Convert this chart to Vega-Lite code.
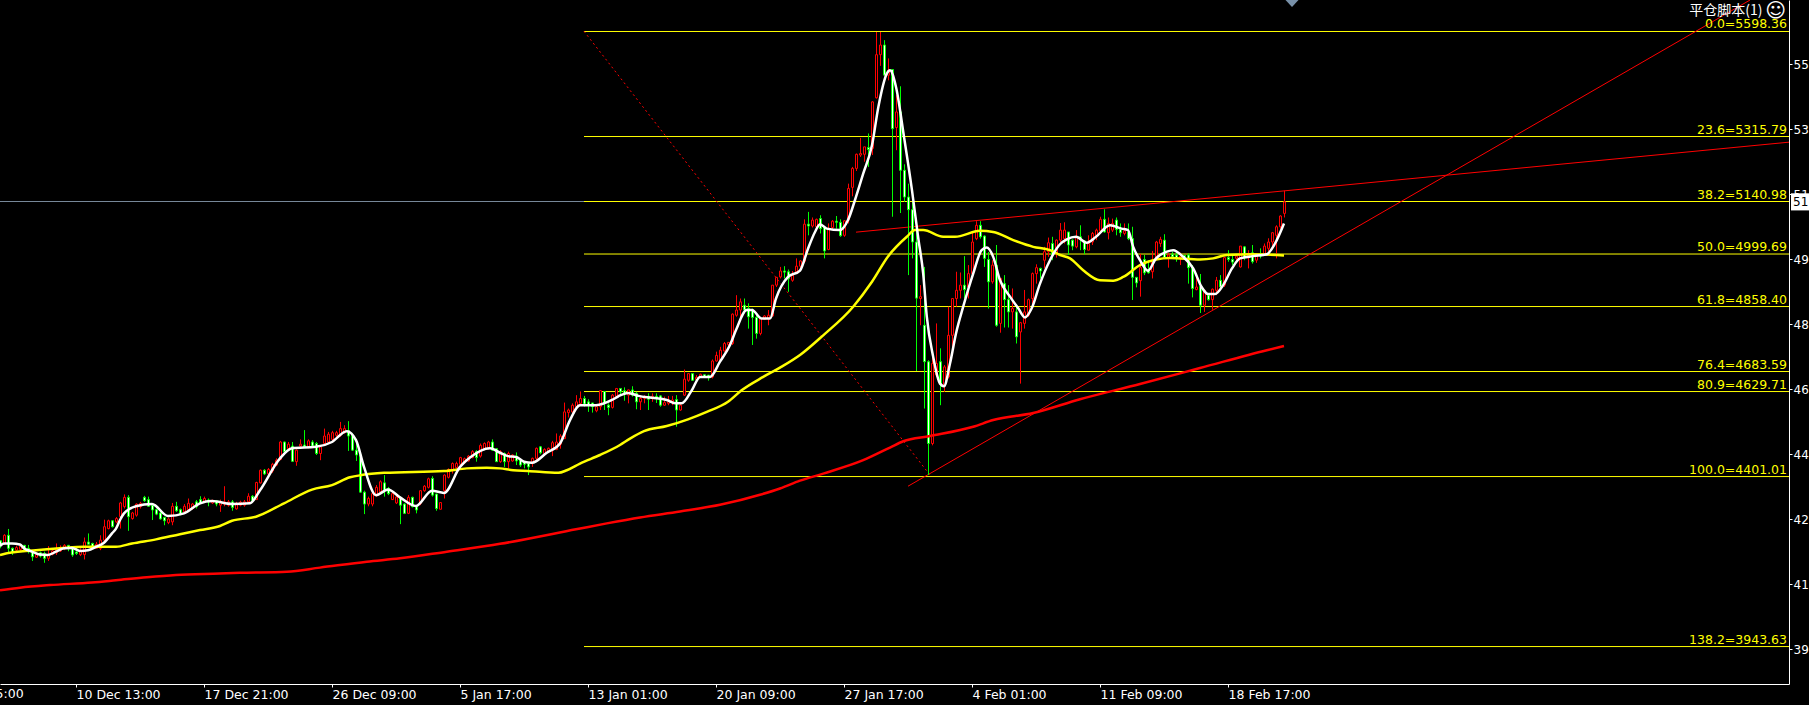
{"$schema":"https://vega.github.io/schema/vega-lite/v6.json","width":1789,"height":684,"autosize":{"type":"none"},"padding":{"left":0,"top":0,"right":20,"bottom":21},"background":"#000000","config":{"view":{"stroke":null},"axis":{"grid":false,"title":null}},
"datasets":{
"candles":[
{"i":0,"o":4228,"h":4230,"l":4208,"c":4217},{"i":1,"o":4221,"h":4246,"l":4217,"c":4243},{"i":2,"o":4243,"h":4260,"l":4194,"c":4208},{"i":3,"o":4208,"h":4210,"l":4190,"c":4197},{"i":4,"o":4203,"h":4215,"l":4200,"c":4210},{"i":5,"o":4205,"h":4216,"l":4201,"c":4214},{"i":6,"o":4216,"h":4217,"l":4199,"c":4203},{"i":7,"o":4208,"h":4217,"l":4194,"c":4199},{"i":8,"o":4197,"h":4201,"l":4174,"c":4185},{"i":9,"o":4184,"h":4194,"l":4182,"c":4191},
{"i":10,"o":4196,"h":4199,"l":4183,"c":4187},{"i":11,"o":4194,"h":4199,"l":4169,"c":4181},{"i":12,"o":4181,"h":4214,"l":4174,"c":4190},{"i":13,"o":4192,"h":4205,"l":4189,"c":4201},{"i":14,"o":4196,"h":4221,"l":4190,"c":4205},{"i":15,"o":4201,"h":4216,"l":4198,"c":4208},{"i":16,"o":4207,"h":4219,"l":4203,"c":4216},{"i":17,"o":4216,"h":4217,"l":4200,"c":4207},{"i":18,"o":4208,"h":4210,"l":4185,"c":4190},{"i":19,"o":4198,"h":4212,"l":4190,"c":4194},
{"i":20,"o":4191,"h":4208,"l":4187,"c":4201},{"i":21,"o":4191,"h":4237,"l":4178,"c":4225},{"i":22,"o":4225,"h":4248,"l":4219,"c":4219},{"i":23,"o":4221,"h":4223,"l":4208,"c":4210},{"i":24,"o":4208,"h":4225,"l":4207,"c":4219},{"i":25,"o":4208,"h":4243,"l":4203,"c":4230},{"i":26,"o":4230,"h":4285,"l":4225,"c":4266},{"i":27,"o":4261,"h":4285,"l":4259,"c":4282},{"i":28,"o":4282,"h":4284,"l":4264,"c":4266},{"i":29,"o":4279,"h":4292,"l":4275,"c":4288},
{"i":30,"o":4293,"h":4333,"l":4261,"c":4330},{"i":31,"o":4320,"h":4353,"l":4315,"c":4345},{"i":32,"o":4345,"h":4351,"l":4255,"c":4293},{"i":33,"o":4288,"h":4306,"l":4285,"c":4303},{"i":34,"o":4297,"h":4329,"l":4293,"c":4327},{"i":35,"o":4320,"h":4333,"l":4315,"c":4329},{"i":36,"o":4345,"h":4349,"l":4333,"c":4336},{"i":37,"o":4339,"h":4347,"l":4320,"c":4321},{"i":38,"o":4324,"h":4327,"l":4284,"c":4311},{"i":39,"o":4312,"h":4315,"l":4297,"c":4300},
{"i":40,"o":4303,"h":4306,"l":4285,"c":4287},{"i":41,"o":4291,"h":4293,"l":4270,"c":4282},{"i":42,"o":4277,"h":4291,"l":4273,"c":4287},{"i":43,"o":4279,"h":4330,"l":4270,"c":4321},{"i":44,"o":4321,"h":4333,"l":4306,"c":4309},{"i":45,"o":4312,"h":4315,"l":4297,"c":4300},{"i":46,"o":4306,"h":4327,"l":4303,"c":4321},{"i":47,"o":4312,"h":4342,"l":4309,"c":4329},{"i":48,"o":4315,"h":4330,"l":4312,"c":4327},{"i":49,"o":4333,"h":4338,"l":4315,"c":4320},
{"i":50,"o":4339,"h":4348,"l":4327,"c":4330},{"i":51,"o":4333,"h":4347,"l":4330,"c":4342},{"i":52,"o":4338,"h":4342,"l":4321,"c":4333},{"i":53,"o":4330,"h":4339,"l":4327,"c":4336},{"i":54,"o":4336,"h":4338,"l":4321,"c":4327},{"i":55,"o":4324,"h":4339,"l":4306,"c":4333},{"i":56,"o":4327,"h":4375,"l":4321,"c":4333},{"i":57,"o":4324,"h":4338,"l":4320,"c":4333},{"i":58,"o":4333,"h":4338,"l":4309,"c":4318},{"i":59,"o":4314,"h":4333,"l":4312,"c":4327},
{"i":60,"o":4324,"h":4336,"l":4321,"c":4332},{"i":61,"o":4324,"h":4338,"l":4320,"c":4333},{"i":62,"o":4333,"h":4356,"l":4330,"c":4348},{"i":63,"o":4348,"h":4351,"l":4333,"c":4336},{"i":64,"o":4339,"h":4387,"l":4338,"c":4385},{"i":65,"o":4384,"h":4420,"l":4382,"c":4418},{"i":66,"o":4418,"h":4421,"l":4405,"c":4408},{"i":67,"o":4408,"h":4424,"l":4405,"c":4420},{"i":68,"o":4416,"h":4438,"l":4411,"c":4434},{"i":69,"o":4432,"h":4450,"l":4429,"c":4445},
{"i":70,"o":4447,"h":4497,"l":4445,"c":4494},{"i":71,"o":4494,"h":4495,"l":4465,"c":4468},{"i":72,"o":4476,"h":4494,"l":4474,"c":4488},{"i":73,"o":4483,"h":4494,"l":4440,"c":4442},{"i":74,"o":4441,"h":4474,"l":4430,"c":4472},{"i":75,"o":4483,"h":4501,"l":4479,"c":4488},{"i":76,"o":4486,"h":4526,"l":4479,"c":4481},{"i":77,"o":4481,"h":4501,"l":4477,"c":4497},{"i":78,"o":4494,"h":4499,"l":4481,"c":4483},{"i":79,"o":4490,"h":4494,"l":4459,"c":4463},
{"i":80,"o":4463,"h":4485,"l":4445,"c":4481},{"i":81,"o":4490,"h":4530,"l":4488,"c":4510},{"i":82,"o":4494,"h":4521,"l":4490,"c":4515},{"i":83,"o":4501,"h":4524,"l":4494,"c":4519},{"i":84,"o":4512,"h":4524,"l":4508,"c":4519},{"i":85,"o":4512,"h":4548,"l":4508,"c":4530},{"i":86,"o":4519,"h":4539,"l":4517,"c":4530},{"i":87,"o":4524,"h":4550,"l":4470,"c":4510},{"i":88,"o":4512,"h":4517,"l":4470,"c":4472},{"i":89,"o":4472,"h":4490,"l":4443,"c":4459},
{"i":90,"o":4459,"h":4463,"l":4357,"c":4359},{"i":91,"o":4359,"h":4363,"l":4300,"c":4327},{"i":92,"o":4327,"h":4347,"l":4321,"c":4342},{"i":93,"o":4327,"h":4360,"l":4321,"c":4355},{"i":94,"o":4351,"h":4378,"l":4347,"c":4372},{"i":95,"o":4360,"h":4391,"l":4355,"c":4387},{"i":96,"o":4384,"h":4405,"l":4347,"c":4364},{"i":97,"o":4369,"h":4373,"l":4351,"c":4355},{"i":98,"o":4339,"h":4360,"l":4338,"c":4355},{"i":99,"o":4330,"h":4351,"l":4327,"c":4346},
{"i":100,"o":4345,"h":4347,"l":4273,"c":4324},{"i":101,"o":4327,"h":4329,"l":4300,"c":4302},{"i":102,"o":4302,"h":4351,"l":4300,"c":4345},{"i":103,"o":4345,"h":4347,"l":4318,"c":4320},{"i":104,"o":4320,"h":4321,"l":4302,"c":4311},{"i":105,"o":4329,"h":4364,"l":4324,"c":4363},{"i":106,"o":4363,"h":4378,"l":4360,"c":4375},{"i":107,"o":4372,"h":4398,"l":4369,"c":4395},{"i":108,"o":4396,"h":4402,"l":4347,"c":4351},{"i":109,"o":4354,"h":4355,"l":4309,"c":4315},
{"i":110,"o":4313,"h":4331,"l":4313,"c":4331},{"i":111,"o":4363,"h":4407,"l":4342,"c":4405},{"i":112,"o":4399,"h":4423,"l":4396,"c":4420},{"i":113,"o":4418,"h":4439,"l":4409,"c":4436},{"i":114,"o":4425,"h":4441,"l":4423,"c":4436},{"i":115,"o":4434,"h":4454,"l":4432,"c":4452},{"i":116,"o":4438,"h":4452,"l":4436,"c":4449},{"i":117,"o":4443,"h":4459,"l":4441,"c":4456},{"i":118,"o":4452,"h":4472,"l":4450,"c":4468},{"i":119,"o":4468,"h":4472,"l":4441,"c":4452},
{"i":120,"o":4456,"h":4490,"l":4452,"c":4485},{"i":121,"o":4474,"h":4493,"l":4472,"c":4490},{"i":122,"o":4479,"h":4497,"l":4474,"c":4494},{"i":123,"o":4494,"h":4501,"l":4470,"c":4472},{"i":124,"o":4476,"h":4477,"l":4441,"c":4441},{"i":125,"o":4441,"h":4472,"l":4438,"c":4468},{"i":126,"o":4463,"h":4466,"l":4427,"c":4441},{"i":127,"o":4441,"h":4468,"l":4423,"c":4463},{"i":128,"o":4443,"h":4461,"l":4441,"c":4459},{"i":129,"o":4456,"h":4466,"l":4432,"c":4443},
{"i":130,"o":4445,"h":4447,"l":4427,"c":4432},{"i":131,"o":4441,"h":4443,"l":4423,"c":4434},{"i":132,"o":4436,"h":4438,"l":4405,"c":4427},{"i":133,"o":4438,"h":4452,"l":4427,"c":4450},{"i":134,"o":4450,"h":4479,"l":4441,"c":4477},{"i":135,"o":4481,"h":4483,"l":4461,"c":4465},{"i":136,"o":4463,"h":4477,"l":4460,"c":4474},{"i":137,"o":4468,"h":4479,"l":4465,"c":4477},{"i":138,"o":4472,"h":4497,"l":4456,"c":4492},{"i":139,"o":4474,"h":4517,"l":4472,"c":4494},
{"i":140,"o":4488,"h":4515,"l":4476,"c":4510},{"i":141,"o":4503,"h":4600,"l":4503,"c":4575},{"i":142,"o":4573,"h":4584,"l":4560,"c":4580},{"i":143,"o":4575,"h":4598,"l":4571,"c":4593},{"i":144,"o":4589,"h":4620,"l":4584,"c":4602},{"i":145,"o":4598,"h":4630,"l":4593,"c":4611},{"i":146,"o":4611,"h":4618,"l":4589,"c":4596},{"i":147,"o":4602,"h":4609,"l":4575,"c":4593},{"i":148,"o":4599,"h":4599,"l":4573,"c":4589},{"i":149,"o":4578,"h":4593,"l":4574,"c":4589},
{"i":150,"o":4589,"h":4633,"l":4580,"c":4632},{"i":151,"o":4630,"h":4630,"l":4580,"c":4598},{"i":152,"o":4593,"h":4598,"l":4566,"c":4587},{"i":153,"o":4587,"h":4623,"l":4584,"c":4620},{"i":154,"o":4617,"h":4638,"l":4615,"c":4638},{"i":155,"o":4638,"h":4638,"l":4620,"c":4629},{"i":156,"o":4632,"h":4641,"l":4605,"c":4625},{"i":157,"o":4620,"h":4635,"l":4598,"c":4634},{"i":158,"o":4634,"h":4644,"l":4616,"c":4620},{"i":159,"o":4625,"h":4629,"l":4582,"c":4602},
{"i":160,"o":4602,"h":4620,"l":4580,"c":4611},{"i":161,"o":4611,"h":4620,"l":4598,"c":4614},{"i":162,"o":4617,"h":4625,"l":4580,"c":4609},{"i":163,"o":4611,"h":4625,"l":4602,"c":4617},{"i":164,"o":4617,"h":4625,"l":4599,"c":4611},{"i":165,"o":4618,"h":4620,"l":4589,"c":4593},{"i":166,"o":4593,"h":4616,"l":4591,"c":4600},{"i":167,"o":4598,"h":4618,"l":4593,"c":4602},{"i":168,"o":4602,"h":4618,"l":4593,"c":4607},{"i":169,"o":4608,"h":4620,"l":4535,"c":4580},
{"i":170,"o":4580,"h":4599,"l":4578,"c":4593},{"i":171,"o":4620,"h":4689,"l":4618,"c":4663},{"i":172,"o":4660,"h":4678,"l":4656,"c":4678},{"i":173,"o":4678,"h":4678,"l":4659,"c":4660},{"i":174,"o":4662,"h":4674,"l":4659,"c":4668},{"i":175,"o":4669,"h":4678,"l":4667,"c":4676},{"i":176,"o":4675,"h":4675,"l":4667,"c":4669},{"i":177,"o":4674,"h":4674,"l":4659,"c":4668},{"i":178,"o":4669,"h":4716,"l":4665,"c":4712},{"i":179,"o":4712,"h":4737,"l":4710,"c":4727},
{"i":180,"o":4714,"h":4750,"l":4712,"c":4741},{"i":181,"o":4739,"h":4763,"l":4737,"c":4759},{"i":182,"o":4756,"h":4763,"l":4750,"c":4762},{"i":183,"o":4759,"h":4840,"l":4755,"c":4838},{"i":184,"o":4835,"h":4889,"l":4831,"c":4849},{"i":185,"o":4849,"h":4880,"l":4829,"c":4871},{"i":186,"o":4862,"h":4880,"l":4840,"c":4849},{"i":187,"o":4853,"h":4867,"l":4799,"c":4831},{"i":188,"o":4849,"h":4853,"l":4755,"c":4829},{"i":189,"o":4829,"h":4835,"l":4772,"c":4786},
{"i":190,"o":4786,"h":4829,"l":4781,"c":4826},{"i":191,"o":4824,"h":4835,"l":4822,"c":4833},{"i":192,"o":4826,"h":4849,"l":4808,"c":4835},{"i":193,"o":4833,"h":4916,"l":4831,"c":4916},{"i":194,"o":4916,"h":4938,"l":4911,"c":4937},{"i":195,"o":4938,"h":4965,"l":4934,"c":4954},{"i":196,"o":4954,"h":4967,"l":4934,"c":4951},{"i":197,"o":4952,"h":4958,"l":4898,"c":4934},{"i":198,"o":4929,"h":4954,"l":4925,"c":4943},{"i":199,"o":4952,"h":4988,"l":4947,"c":4967},
{"i":200,"o":4967,"h":4983,"l":4963,"c":4981},{"i":201,"o":4980,"h":5093,"l":4976,"c":5080},{"i":202,"o":5080,"h":5113,"l":5050,"c":5075},{"i":203,"o":5075,"h":5098,"l":5071,"c":5091},{"i":204,"o":5073,"h":5095,"l":5071,"c":5093},{"i":205,"o":5095,"h":5104,"l":5055,"c":5068},{"i":206,"o":5071,"h":5073,"l":4988,"c":5008},{"i":207,"o":5012,"h":5082,"l":5010,"c":5066},{"i":208,"o":5071,"h":5091,"l":5064,"c":5088},{"i":209,"o":5088,"h":5102,"l":5068,"c":5085},
{"i":210,"o":5085,"h":5093,"l":5046,"c":5049},{"i":211,"o":5050,"h":5091,"l":5046,"c":5089},{"i":212,"o":5091,"h":5189,"l":5082,"c":5176},{"i":213,"o":5179,"h":5234,"l":5155,"c":5230},{"i":214,"o":5230,"h":5270,"l":5223,"c":5268},{"i":215,"o":5266,"h":5312,"l":5261,"c":5270},{"i":216,"o":5268,"h":5288,"l":5248,"c":5288},{"i":217,"o":5286,"h":5324,"l":5234,"c":5281},{"i":218,"o":5284,"h":5411,"l":5266,"c":5409},{"i":219,"o":5420,"h":5597,"l":5418,"c":5536},
{"i":220,"o":5536,"h":5597,"l":5506,"c":5562},{"i":221,"o":5562,"h":5575,"l":5481,"c":5481},{"i":222,"o":5481,"h":5526,"l":5467,"c":5494},{"i":223,"o":5496,"h":5496,"l":5100,"c":5337},{"i":224,"o":5340,"h":5427,"l":5279,"c":5382},{"i":225,"o":5382,"h":5451,"l":5110,"c":5225},{"i":226,"o":5225,"h":5241,"l":5140,"c":5153},{"i":227,"o":5153,"h":5189,"l":4943,"c":5119},{"i":228,"o":5119,"h":5140,"l":4988,"c":5032},{"i":229,"o":5032,"h":5091,"l":4685,"c":4881},
{"i":230,"o":4880,"h":4916,"l":4808,"c":4885},{"i":231,"o":4808,"h":4965,"l":4584,"c":4710},{"i":232,"o":4710,"h":4714,"l":4405,"c":4490},{"i":233,"o":4490,"h":4728,"l":4485,"c":4705},{"i":234,"o":4674,"h":4813,"l":4669,"c":4705},{"i":235,"o":4710,"h":4746,"l":4593,"c":4651},{"i":236,"o":4647,"h":4701,"l":4629,"c":4696},{"i":237,"o":4669,"h":4858,"l":4665,"c":4781},{"i":238,"o":4781,"h":4880,"l":4741,"c":4880},{"i":239,"o":4880,"h":4952,"l":4858,"c":4902},
{"i":240,"o":4902,"h":4950,"l":4880,"c":4916},{"i":241,"o":4916,"h":4994,"l":4880,"c":4904},{"i":242,"o":4911,"h":4970,"l":4880,"c":4947},{"i":243,"o":4947,"h":5059,"l":4943,"c":5032},{"i":244,"o":5041,"h":5088,"l":5037,"c":5077},{"i":245,"o":5077,"h":5088,"l":5041,"c":5046},{"i":246,"o":5048,"h":5050,"l":4965,"c":4988},{"i":247,"o":4985,"h":5005,"l":4853,"c":4925},{"i":248,"o":4925,"h":4983,"l":4920,"c":4970},{"i":249,"o":4970,"h":5024,"l":4804,"c":4808},
{"i":250,"o":4813,"h":4934,"l":4788,"c":4934},{"i":251,"o":4920,"h":4943,"l":4802,"c":4877},{"i":252,"o":4877,"h":4916,"l":4802,"c":4844},{"i":253,"o":4844,"h":4907,"l":4799,"c":4853},{"i":254,"o":4844,"h":4864,"l":4759,"c":4777},{"i":255,"o":4790,"h":4817,"l":4651,"c":4815},{"i":256,"o":4813,"h":4903,"l":4799,"c":4844},{"i":257,"o":4835,"h":4880,"l":4831,"c":4877},{"i":258,"o":4880,"h":4950,"l":4862,"c":4947},{"i":259,"o":4947,"h":4972,"l":4920,"c":4963},
{"i":260,"o":4961,"h":4963,"l":4934,"c":4954},{"i":261,"o":4983,"h":5019,"l":4961,"c":5006},{"i":262,"o":5006,"h":5044,"l":4992,"c":5030},{"i":263,"o":5028,"h":5046,"l":4983,"c":4997},{"i":264,"o":5001,"h":5039,"l":4990,"c":5037},{"i":265,"o":5037,"h":5083,"l":5032,"c":5064},{"i":266,"o":5041,"h":5085,"l":5028,"c":5064},{"i":267,"o":5059,"h":5059,"l":4997,"c":5024},{"i":268,"o":5037,"h":5039,"l":5010,"c":5021},{"i":269,"o":5019,"h":5064,"l":5015,"c":5046},
{"i":270,"o":5046,"h":5077,"l":5010,"c":5041},{"i":271,"o":5035,"h":5037,"l":4999,"c":5012},{"i":272,"o":5010,"h":5050,"l":5010,"c":5028},{"i":273,"o":5032,"h":5059,"l":5024,"c":5055},{"i":274,"o":5050,"h":5068,"l":5037,"c":5064},{"i":275,"o":5062,"h":5100,"l":5059,"c":5093},{"i":276,"o":5093,"h":5120,"l":5057,"c":5059},{"i":277,"o":5057,"h":5098,"l":5039,"c":5082},{"i":278,"o":5064,"h":5095,"l":5059,"c":5082},{"i":279,"o":5091,"h":5098,"l":5050,"c":5066},
{"i":280,"o":5066,"h":5082,"l":5046,"c":5057},{"i":281,"o":5055,"h":5082,"l":5050,"c":5062},{"i":282,"o":5059,"h":5082,"l":5037,"c":5041},{"i":283,"o":5041,"h":5073,"l":4876,"c":4937},{"i":284,"o":4937,"h":4938,"l":4910,"c":4922},{"i":285,"o":4928,"h":5000,"l":4885,"c":4963},{"i":286,"o":4985,"h":4997,"l":4943,"c":4949},{"i":287,"o":4956,"h":4983,"l":4947,"c":4949},{"i":288,"o":4952,"h":5008,"l":4934,"c":4983},{"i":289,"o":4990,"h":5035,"l":4983,"c":5032},
{"i":290,"o":5028,"h":5046,"l":5019,"c":5039},{"i":291,"o":5037,"h":5053,"l":4988,"c":4990},{"i":292,"o":4988,"h":5003,"l":4963,"c":4997},{"i":293,"o":4999,"h":5006,"l":4988,"c":4992},{"i":294,"o":4997,"h":5010,"l":4979,"c":4988},{"i":295,"o":4990,"h":5003,"l":4970,"c":4994},{"i":296,"o":4996,"h":4997,"l":4988,"c":4990},{"i":297,"o":4997,"h":5001,"l":4920,"c":4963},{"i":298,"o":4963,"h":4970,"l":4883,"c":4907},{"i":299,"o":4904,"h":4938,"l":4902,"c":4911},
{"i":300,"o":4913,"h":4946,"l":4841,"c":4862},{"i":301,"o":4862,"h":4902,"l":4844,"c":4902},{"i":302,"o":4889,"h":4894,"l":4874,"c":4877},{"i":303,"o":4877,"h":4907,"l":4850,"c":4905},{"i":304,"o":4902,"h":4938,"l":4889,"c":4929},{"i":305,"o":4929,"h":4943,"l":4907,"c":4911},{"i":306,"o":4916,"h":4992,"l":4911,"c":4990},{"i":307,"o":4990,"h":5010,"l":4979,"c":4985},{"i":308,"o":4985,"h":4999,"l":4970,"c":4978},{"i":309,"o":4988,"h":4997,"l":4983,"c":4994},
{"i":310,"o":4965,"h":5021,"l":4963,"c":5021},{"i":311,"o":5019,"h":5021,"l":4983,"c":4990},{"i":312,"o":4990,"h":5010,"l":4961,"c":4997},{"i":313,"o":5003,"h":5024,"l":4974,"c":4979},{"i":314,"o":4983,"h":4997,"l":4976,"c":4994},{"i":315,"o":5000,"h":5015,"l":4988,"c":4994},{"i":316,"o":4999,"h":5028,"l":4997,"c":5021},{"i":317,"o":5015,"h":5042,"l":5006,"c":5032},{"i":318,"o":5032,"h":5059,"l":5019,"c":5057},{"i":319,"o":5050,"h":5077,"l":4988,"c":5073},
{"i":320,"o":5073,"h":5104,"l":5068,"c":5102},{"i":321,"o":5109,"h":5170,"l":5098,"c":5140}],
"maWhite":[{"i":0,"p":4214},{"i":1,"p":4221},{"i":3,"p":4221},{"i":5,"p":4218},{"i":6,"p":4208},{"i":8,"p":4199},{"i":10,"p":4191},{"i":12,"p":4190},{"i":14,"p":4199},{"i":16,"p":4208},{"i":18,"p":4209},{"i":20,"p":4201},{"i":22,"p":4203},{"i":24,"p":4212},{"i":26,"p":4223},{"i":28,"p":4248},{"i":29,"p":4261},{"i":30,"p":4284},{"i":31,"p":4302},{"i":34,"p":4321},{"i":38,"p":4327},{"i":42,"p":4295},{"i":46,"p":4302},{"i":50,"p":4329},{"i":53,"p":4335},{"i":58,"p":4327},{"i":62.5,"p":4329},{"i":65,"p":4364},{"i":70,"p":4450},{"i":73,"p":4477},{"i":79,"p":4481},{"i":83,"p":4494},{"i":86.7,"p":4523},{"i":89,"p":4499},{"i":91,"p":4427},{"i":94,"p":4351},{"i":97,"p":4366},{"i":100,"p":4345},{"i":104,"p":4322},{"i":108,"p":4363},{"i":111,"p":4357},{"i":115,"p":4427},{"i":117.5,"p":4452},{"i":122.5,"p":4477},{"i":125,"p":4465},{"i":127,"p":4456},{"i":129,"p":4454},{"i":131,"p":4441},{"i":133,"p":4438},{"i":136.7,"p":4465},{"i":140,"p":4490},{"i":142.5,"p":4553},{"i":145,"p":4593},{"i":149,"p":4593},{"i":153,"p":4607},{"i":154.6,"p":4617},{"i":157,"p":4626},{"i":159.6,"p":4618},{"i":163,"p":4613},{"i":166.7,"p":4607},{"i":169,"p":4598},{"i":170.4,"p":4598},{"i":173,"p":4634},{"i":175,"p":4669},{"i":177.5,"p":4669},{"i":180,"p":4710},{"i":182.5,"p":4755},{"i":184,"p":4795},{"i":186.7,"p":4849},{"i":188,"p":4849},{"i":190.4,"p":4826},{"i":192.5,"p":4826},{"i":194,"p":4880},{"i":197,"p":4938},{"i":200,"p":4955},{"i":202,"p":5014},{"i":203.75,"p":5059},{"i":205,"p":5080},{"i":206.7,"p":5068},{"i":210,"p":5064},{"i":212,"p":5091},{"i":213.75,"p":5145},{"i":215.8,"p":5216},{"i":218,"p":5292},{"i":219.6,"p":5396},{"i":221.7,"p":5485},{"i":222.5,"p":5494},{"i":224,"p":5449},{"i":226,"p":5315},{"i":228,"p":5171},{"i":229.6,"p":5040},{"i":230.8,"p":4947},{"i":231.7,"p":4831},{"i":233.3,"p":4723},{"i":235,"p":4651},{"i":236,"p":4644},{"i":237.5,"p":4705},{"i":239,"p":4786},{"i":240.8,"p":4858},{"i":243.3,"p":4947},{"i":245.4,"p":5010},{"i":246.7,"p":5017},{"i":248.3,"p":4992},{"i":250,"p":4929},{"i":252.5,"p":4885},{"i":254.6,"p":4853},{"i":256.25,"p":4829},{"i":257.9,"p":4853},{"i":260,"p":4920},{"i":262.5,"p":4983},{"i":265,"p":5026},{"i":266.7,"p":5039},{"i":269,"p":5046},{"i":271.7,"p":5030},{"i":274,"p":5046},{"i":277.5,"p":5077},{"i":280.4,"p":5068},{"i":282,"p":5064},{"i":283.3,"p":5019},{"i":285,"p":4983},{"i":287,"p":4955},{"i":289,"p":4988},{"i":291.7,"p":5006},{"i":293.3,"p":5010},{"i":295.8,"p":4992},{"i":298.3,"p":4961},{"i":300.4,"p":4911},{"i":302,"p":4892},{"i":303.75,"p":4892},{"i":305.8,"p":4916},{"i":308,"p":4961},{"i":310,"p":4988},{"i":313.3,"p":4994},{"i":316.7,"p":4999},{"i":318.75,"p":5028},{"i":321,"p":5082}],
"maYellow":[{"i":0,"p":4190},{"i":2.5,"p":4196},{"i":9,"p":4203},{"i":15,"p":4208},{"i":21,"p":4212},{"i":29,"p":4212},{"i":33,"p":4221},{"i":39,"p":4232},{"i":45,"p":4246},{"i":50,"p":4257},{"i":55,"p":4268},{"i":58,"p":4282},{"i":64,"p":4293},{"i":71,"p":4329},{"i":78,"p":4366},{"i":83,"p":4378},{"i":87.5,"p":4399},{"i":90.4,"p":4405},{"i":96,"p":4411},{"i":111,"p":4416},{"i":116.7,"p":4423},{"i":121.7,"p":4425},{"i":125,"p":4423},{"i":128.3,"p":4418},{"i":132,"p":4416},{"i":139.6,"p":4411},{"i":141.7,"p":4418},{"i":145,"p":4436},{"i":150,"p":4459},{"i":155,"p":4486},{"i":157.5,"p":4503},{"i":161,"p":4523},{"i":166.7,"p":4537},{"i":172,"p":4555},{"i":176.7,"p":4575},{"i":182,"p":4602},{"i":185.4,"p":4633},{"i":190.8,"p":4669},{"i":195,"p":4694},{"i":200,"p":4728},{"i":205.8,"p":4781},{"i":213.3,"p":4858},{"i":218,"p":4925},{"i":222,"p":4993},{"i":226.7,"p":5046},{"i":228.75,"p":5064},{"i":230.8,"p":5064},{"i":235.8,"p":5046},{"i":238.75,"p":5046},{"i":245,"p":5062},{"i":248.3,"p":5059},{"i":253.3,"p":5037},{"i":258.3,"p":5019},{"i":262.5,"p":5010},{"i":265,"p":4997},{"i":267.5,"p":4988},{"i":270.8,"p":4956},{"i":275,"p":4929},{"i":278.3,"p":4928},{"i":280.8,"p":4938},{"i":285,"p":4970},{"i":289,"p":4985},{"i":292.5,"p":4989},{"i":300,"p":4985},{"i":303.3,"p":4988},{"i":306.7,"p":4997},{"i":313.3,"p":4999},{"i":321,"p":4996}],
"maRed":[{"i":0,"p":4095},{"i":5,"p":4102},{"i":12.5,"p":4109},{"i":23,"p":4116},{"i":29,"p":4122},{"i":36.7,"p":4130},{"i":44,"p":4136},{"i":55,"p":4140},{"i":60,"p":4142},{"i":71.7,"p":4145},{"i":80,"p":4156},{"i":91.7,"p":4172},{"i":100,"p":4181},{"i":111.7,"p":4199},{"i":125,"p":4220},{"i":144,"p":4259},{"i":151.7,"p":4275},{"i":160,"p":4291},{"i":170,"p":4307},{"i":180,"p":4325},{"i":190,"p":4352},{"i":195,"p":4369},{"i":200,"p":4390},{"i":205.8,"p":4409},{"i":215.8,"p":4445},{"i":222.5,"p":4479},{"i":225.8,"p":4496},{"i":232.5,"p":4510},{"i":243.3,"p":4535},{"i":248.3,"p":4553},{"i":258.3,"p":4572},{"i":270,"p":4609},{"i":285,"p":4650},{"i":300,"p":4693},{"i":316.7,"p":4741},{"i":321,"p":4752}],
"trend":[{"t":"up","i":227,"p":4375},{"t":"up","i":437.5,"p":5683},{"t":"flat","i":214,"p":5058.5},{"t":"flat","i":447.25,"p":5300.6}],
"diag":[{"i":146,"p":5599},{"i":232.5,"p":4405}],
"fib":[{"i":146,"e":447.25,"t":446.75,"p":5598.36,"label":"0.0=5598.36"},{"i":146,"e":447.25,"t":446.75,"p":5315.79,"label":"23.6=5315.79"},{"i":146,"e":447.25,"t":446.75,"p":5140.98,"label":"38.2=5140.98"},{"i":146,"e":447.25,"t":446.75,"p":4999.69,"label":"50.0=4999.69"},{"i":146,"e":447.25,"t":446.75,"p":4858.40,"label":"61.8=4858.40"},{"i":146,"e":447.25,"t":446.75,"p":4683.59,"label":"76.4=4683.59"},{"i":146,"e":447.25,"t":446.75,"p":4629.71,"label":"80.9=4629.71"},{"i":146,"e":447.25,"t":446.75,"p":4401.01,"label":"100.0=4401.01"},{"i":146,"e":447.25,"t":446.75,"p":3943.63,"label":"138.2=3943.63"}]
},
"layer":[
{"data":{"values":[{"i":0,"e":447.25,"p":5140.98}]},"mark":{"type":"rule","color":"#778899","strokeWidth":1},"encoding":{"x":{"field":"i","type":"quantitative","scale":{"domain":[0,447.25],"nice":false,"zero":false,"padding":0},"axis":{"orient":"bottom","title":null,"values":[19,51,83,115,147,179,211,243,275,307],"labelExpr":"{'19':'10 Dec 13:00','51':'17 Dec 21:00','83':'26 Dec 09:00','115':'5 Jan 17:00','147':'13 Jan 01:00','179':'20 Jan 09:00','211':'27 Jan 17:00','243':'4 Feb 01:00','275':'11 Feb 09:00','307':'18 Feb 17:00'}[''+datum.value]","labelAlign":"left","labelBaseline":"top","labelColor":"#ffffff","labelFont":"DejaVu Sans","labelFontSize":12.5,"labelPadding":1,"labelBound":false,"labelFlush":false,"labelOverlap":false,"tickColor":"#ffffff","tickSize":3,"domainColor":"#ffffff","grid":false}},"x2":{"field":"e"},"y":{"field":"p","type":"quantitative","scale":{"domain":[3842.9,5683.1],"nice":false,"zero":false},"axis":{"orient":"right","title":null,"values":[3936.9,4111.7,4286.5,4461.3,4636,4811,4985.9,5160.7,5335.5,5510.4],"labelExpr":"slice(''+datum.value,0,2)","labelColor":"#ffffff","labelFont":"DejaVu Sans","labelFontSize":12,"labelPadding":1,"labelAlign":"left","labelBound":false,"labelFlush":false,"labelOverlap":false,"tickColor":"#ffffff","tickSize":3,"domainColor":"#ffffff","grid":false}}}},
{"data":{"name":"fib"},"mark":{"type":"rule","color":"#ffff00","strokeWidth":1},"encoding":{"x":{"field":"i","type":"quantitative"},"x2":{"field":"e"},"y":{"field":"p","type":"quantitative"}}},
{"data":{"name":"trend"},"mark":{"type":"line","color":"#ff0000","strokeWidth":1,"clip":true},"encoding":{"x":{"field":"i","type":"quantitative"},"y":{"field":"p","type":"quantitative"},"detail":{"field":"t"}}},
{"data":{"name":"diag"},"mark":{"type":"line","color":"#ff0000","strokeWidth":1,"strokeDash":[2,3]},"encoding":{"x":{"field":"i","type":"quantitative"},"y":{"field":"p","type":"quantitative"}}},
{"data":{"name":"candles"},"mark":{"type":"rule","strokeWidth":1,"xOffset":0.5},"encoding":{"x":{"field":"i","type":"quantitative"},"y":{"field":"l","type":"quantitative"},"y2":{"field":"h"},"color":{"condition":{"test":"datum.c>=datum.o","value":"#ff0000"},"value":"#00ff00"}}},
{"data":{"name":"candles"},"mark":{"type":"bar","size":2,"strokeWidth":1,"xOffset":0.5},"encoding":{"x":{"field":"i","type":"quantitative"},"y":{"field":"o","type":"quantitative"},"y2":{"field":"c"},"stroke":{"condition":{"test":"datum.c>=datum.o","value":"#ff0000"},"value":"#00ff00"},"fill":{"condition":{"test":"datum.c>=datum.o","value":"#000000"},"value":"#ffffff"}}},
{"data":{"name":"maRed"},"mark":{"type":"line","color":"#ff0000","strokeWidth":2.5,"interpolate":"monotone"},"encoding":{"x":{"field":"i","type":"quantitative"},"y":{"field":"p","type":"quantitative"}}},
{"data":{"name":"maYellow"},"mark":{"type":"line","color":"#ffff00","strokeWidth":2.5,"interpolate":"monotone"},"encoding":{"x":{"field":"i","type":"quantitative"},"y":{"field":"p","type":"quantitative"}}},
{"data":{"name":"maWhite"},"mark":{"type":"line","color":"#ffffff","strokeWidth":2.5,"interpolate":"monotone"},"encoding":{"x":{"field":"i","type":"quantitative"},"y":{"field":"p","type":"quantitative"}}},
{"data":{"name":"fib"},"mark":{"type":"text","color":"#ffff00","font":"DejaVu Sans","fontSize":12.5,"align":"right","baseline":"alphabetic","dy":-3},"encoding":{"x":{"field":"t","type":"quantitative"},"y":{"field":"p","type":"quantitative"},"text":{"field":"label"}}},
{"data":{"values":[{"i":447.75,"e":452.25,"p":5163,"q":5117}]},"mark":{"type":"rect","color":"#ffffff"},"encoding":{"x":{"field":"i","type":"quantitative"},"x2":{"field":"e"},"y":{"field":"p","type":"quantitative"},"y2":{"field":"q"}}},
{"data":{"values":[{"i":448.25,"p":5140.98,"label":"51"}]},"mark":{"type":"text","color":"#000000","font":"DejaVu Sans","fontSize":12,"align":"left","baseline":"middle"},"encoding":{"x":{"field":"i","type":"quantitative"},"y":{"field":"p","type":"quantitative"},"text":{"field":"label"}}},
{"data":{"values":[{"i":5.9,"p":3816,"label":"5:00"}]},"mark":{"type":"text","color":"#ffffff","font":"DejaVu Sans","fontSize":12.5,"align":"right","baseline":"middle"},"encoding":{"x":{"field":"i","type":"quantitative"},"y":{"field":"p","type":"quantitative"},"text":{"field":"label"}}},
{"data":{"values":[{"i":440.6,"p":5653,"label":"平仓脚本(1)"}]},"mark":{"type":"text","color":"#ffffff","font":"Noto Sans CJK SC","fontSize":14,"align":"right","baseline":"middle"},"encoding":{"x":{"field":"i","type":"quantitative"},"y":{"field":"p","type":"quantitative"},"text":{"field":"label"}}},
{"data":{"values":[{"i":443.9,"p":5653,"label":"☺"}]},"mark":{"type":"text","color":"#ffffff","font":"DejaVu Sans","fontSize":20,"align":"center","baseline":"middle"},"encoding":{"x":{"field":"i","type":"quantitative"},"y":{"field":"p","type":"quantitative"},"text":{"field":"label"}}},
{"data":{"values":[{"i":323,"p":5683.1}]},"mark":{"type":"point","shape":"M-1,0L1,0L0,1.08Z","filled":true,"size":169,"color":"#7890a8","opacity":1},"encoding":{"x":{"field":"i","type":"quantitative"},"y":{"field":"p","type":"quantitative"}}}
]}
